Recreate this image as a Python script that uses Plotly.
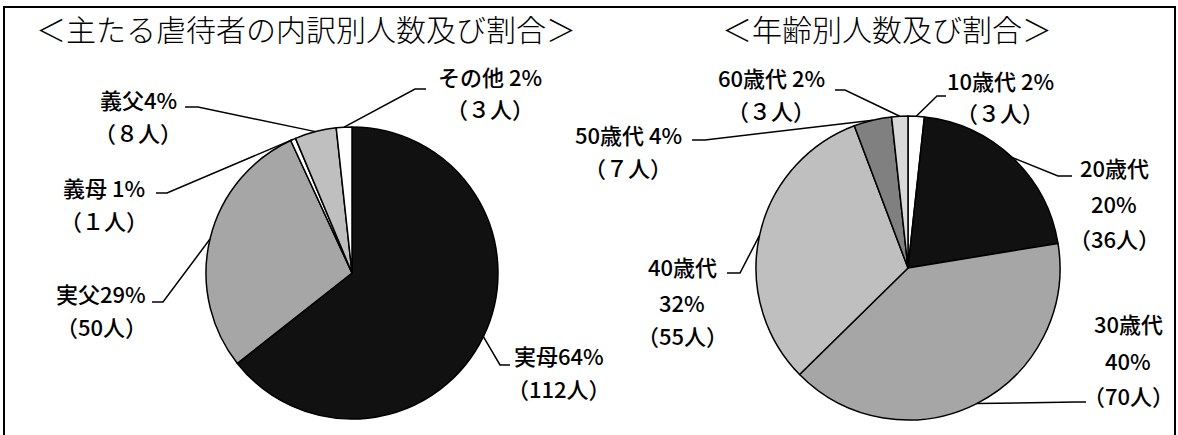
import math
import plotly.graph_objects as go

W, H = 1178, 435

# 主たる虐待者の内訳
abuser_names = ["実母", "実父", "義母", "義父", "その他"]
abuser_counts = [112, 50, 1, 8, 3]
abuser_pct = [64, 29, 1, 4, 2]
abuser_counts_text = ["112", "50", "１", "８", "３"]
abuser_colors = ["#111111", "#a6a6a6", "#ffffff", "#bfbfbf", "#ffffff"]

# 年齢別
age_names = ["10歳代", "20歳代", "30歳代", "40歳代", "50歳代", "60歳代"]
age_counts = [3, 36, 70, 55, 7, 3]
age_pct = [2, 20, 40, 32, 4, 2]
age_counts_text = ["３", "36", "70", "55", "７", "３"]
age_colors = ["#ffffff", "#111111", "#a6a6a6", "#bfbfbf", "#808080", "#d9d9d9"]

titles = ["＜主たる虐待者の内訳別人数及び割合＞", "＜年齢別人数及び割合＞"]

# pie geometry in pixels: centre x, centre y, radius
LEFT_PIE = (352, 273, 146)
RIGHT_PIE = (908, 268, 152)

# label layout: separator between name and percent (None -> three lines),
# centre x, y of each text line, shoulder (x_outer, x_inner, y)
abuser_layout = [
    ("", 559, [355, 388], (510, 500, 365)),
    ("", 101, [293, 326], (152, 163, 302)),
    (" ", 104, [187, 220], (156, 167, 193)),
    ("", 138, [99, 132], (185, 198, 107)),
    (" ", 490, [76, 108], (426, 415, 89)),
]
age_layout = [
    (" ", 1000, [80, 112], (946, 937, 96)),
    (None, 1114, [167, 203, 238], (1072, 1058, 176)),
    (None, 1128, [323, 360, 395], (1086, 1076, 402)),
    (None, 682, [266, 302, 335], (727, 740, 273)),
    (" ", 628, [134, 167], (692, 705, 140)),
    (" ", 771, [77, 110], (835, 845, 90)),
]

LABEL_FONT = dict(family="Noto Sans CJK JP, Noto Sans, sans-serif", size=22,
                  color="#000000", weight=500)
TITLE_FONT = dict(family="Noto Sans CJK JP, Noto Sans, sans-serif", size=30,
                  color="#000000", weight=300)


def px(x):
    return x / W


def py(y):
    return 1 - y / H


def domain(geom):
    cx, cy, r = geom
    return dict(x=[px(cx - r), px(cx + r)], y=[py(cy + r), py(cy - r)])


def edge_point(values, i, geom):
    cx, cy, r = geom
    total = sum(values)
    mid = (sum(values[:i]) + values[i] / 2) / total * 2 * math.pi
    return cx + r * math.sin(mid), cy - r * math.cos(mid)


fig = go.Figure()
for names, counts, colors, geom in [
    (abuser_names, abuser_counts, abuser_colors, LEFT_PIE),
    (age_names, age_counts, age_colors, RIGHT_PIE),
]:
    fig.add_trace(go.Pie(
        labels=names, values=counts, sort=False, direction="clockwise", rotation=0,
        marker=dict(colors=colors, line=dict(color="#000000", width=1.5)),
        textinfo="none", domain=domain(geom), showlegend=False,
    ))

annotations = []
shapes = []
for names, counts, pcts, ctext, layout, geom in [
    (abuser_names, abuser_counts, abuser_pct, abuser_counts_text, abuser_layout, LEFT_PIE),
    (age_names, age_counts, age_pct, age_counts_text, age_layout, RIGHT_PIE),
]:
    for i, (sep, cx, ys, shoulder) in enumerate(layout):
        if sep is None:
            lines = [names[i], f"{pcts[i]}%", f"（{ctext[i]}人）"]
        else:
            lines = [f"{names[i]}{sep}{pcts[i]}%", f"（{ctext[i]}人）"]
        for text, y in zip(lines, ys):
            annotations.append(dict(
                x=px(cx), y=py(y), xref="paper", yref="paper", text=text,
                showarrow=False, xanchor="center", yanchor="middle", font=LABEL_FONT,
            ))
        ex, ey = edge_point(counts, i, geom)
        xo, xi, sy = shoulder
        shapes.append(dict(
            type="path", xref="paper", yref="paper",
            path=f"M {px(xo)} {py(sy)} L {px(xi)} {py(sy)} L {px(ex)} {py(ey)}",
            line=dict(color="#000000", width=1.5),
        ))

for text, cx in zip(titles, [306, 887]):
    annotations.append(dict(
        x=px(cx), y=py(28), xref="paper", yref="paper", text=text,
        showarrow=False, xanchor="center", yanchor="middle", font=TITLE_FONT,
    ))

# outer frame (bottom edge runs past the page)
shapes.append(dict(
    type="rect", xref="paper", yref="paper",
    x0=px(4), x1=px(1175), y0=py(445), y1=py(7),
    line=dict(color="#000000", width=2), fillcolor="rgba(0,0,0,0)",
))

fig.update_layout(
    width=W, height=H, margin=dict(l=0, r=0, t=0, b=0),
    paper_bgcolor="#ffffff", plot_bgcolor="#ffffff",
    annotations=annotations, shapes=shapes,
)

fig.write_html("out.html")
